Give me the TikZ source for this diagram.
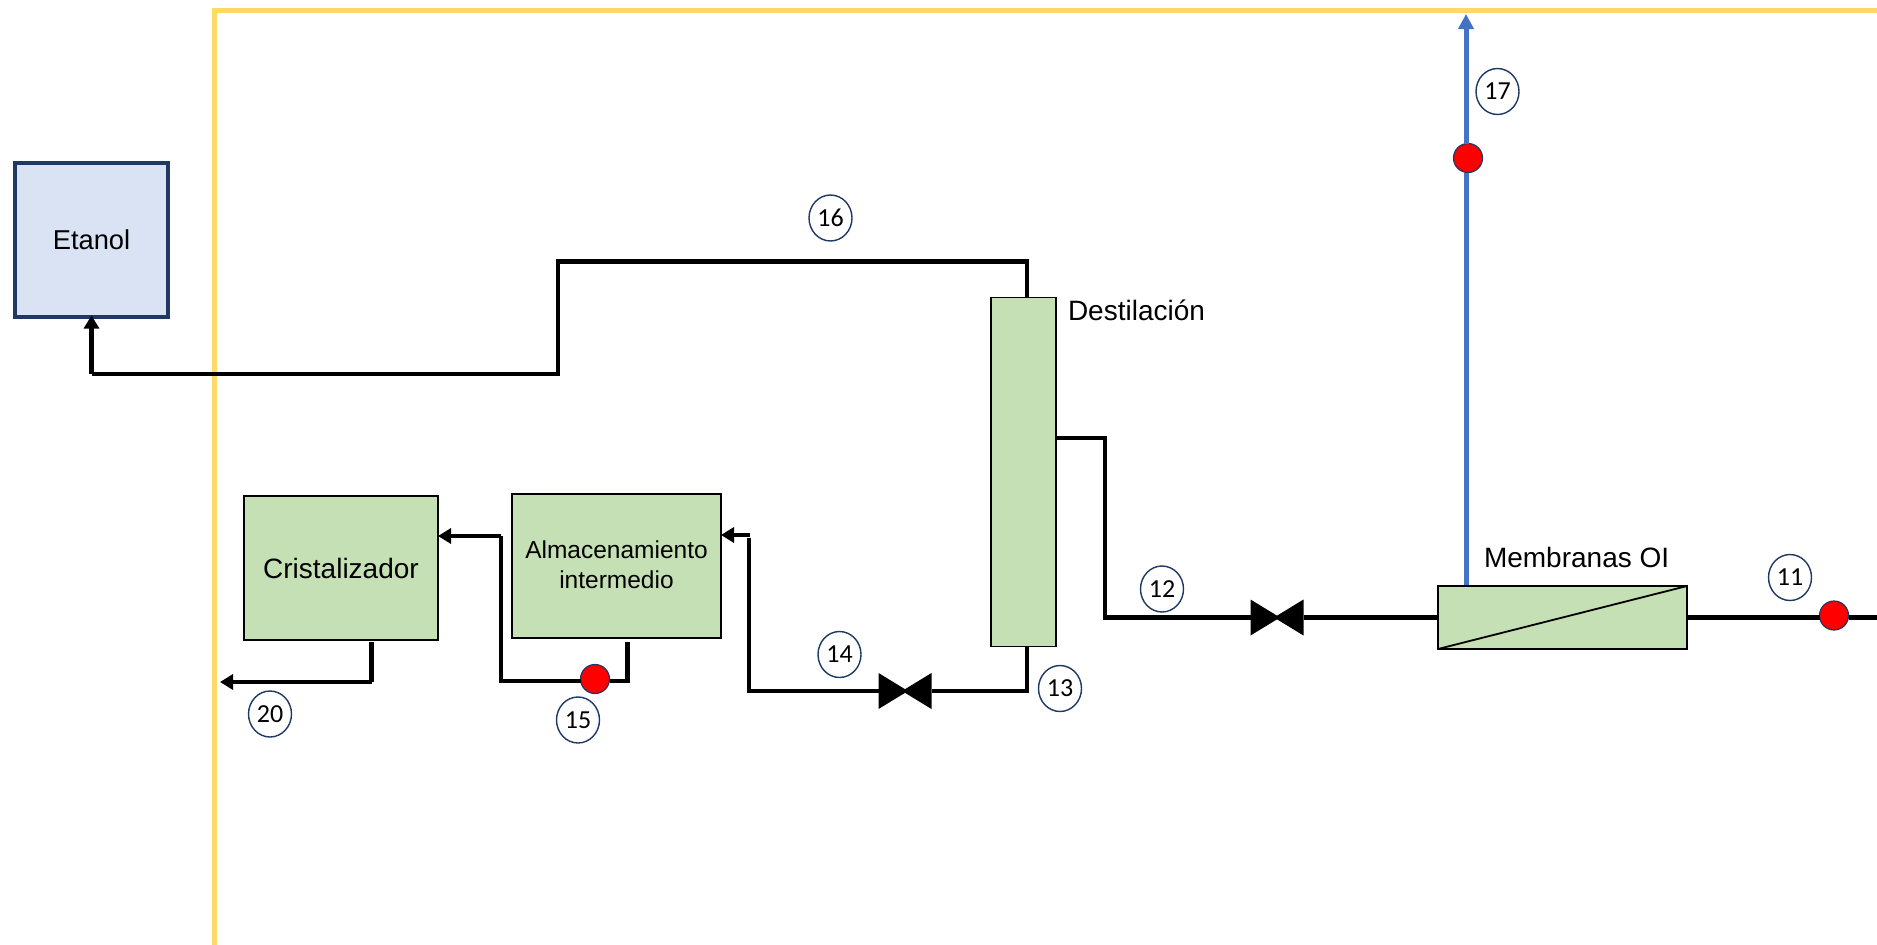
\documentclass[tikz,border=0pt]{standalone}
\usepackage{fontspec}
\setmainfont{Liberation Sans}
\newfontfamily\numfont{Carlito}
\usetikzlibrary{arrows.meta,calc,shapes.geometric}
\definecolor{yel}{HTML}{FFD966}
\definecolor{grn}{HTML}{C5E0B4}
\definecolor{lblue}{HTML}{DAE3F3}
\definecolor{navy}{HTML}{1F3864}
\definecolor{flow}{HTML}{4472C4}
\tikzset{
  unitbox/.style={draw=black,line width=1.7pt,fill=grn,inner sep=0pt,outer sep=0pt,align=center},
  pipe/.style={draw=black,line width=4.5pt,line cap=square,line join=miter},
  arr/.style={pipe,-{Triangle[length=13pt,width=15pt]}},
  bluepipe/.style={draw=flow,line width=5pt},
  tag/.style={draw=navy,line width=1.4pt,fill=white,ellipse,minimum width=43pt,minimum height=46pt,inner sep=0pt,font=\numfont\fontsize{26}{28}\selectfont},
  dot/.style={circle,draw=navy,line width=1.2pt,fill=red,minimum size=29pt,inner sep=0pt,outer sep=0pt},
  valve/.style={minimum width=53pt,minimum height=36pt,inner sep=0pt,outer sep=0pt,
    path picture={
      \fill[black] (path picture bounding box.north west)--([xshift=3pt]path picture bounding box.center)--(path picture bounding box.south west)--cycle;
      \fill[black] (path picture bounding box.north east)--([xshift=-3pt]path picture bounding box.center)--(path picture bounding box.south east)--cycle;}},
  lab/.style={inner sep=0pt,outer sep=0pt}
}
\begin{document}
\begin{tikzpicture}[x=1pt,y=-1pt]
\useasboundingbox (0,0) rectangle (1877,945);
% system boundary
\coordinate (yb) at (214.5,945);
\coordinate (yc) at (214.5,10.5);
\coordinate (yr) at (1877,10.5);
\draw[yel,line width=5.5pt] (yb) -- (yc) -- (yr);
% units
\node[draw=navy,line width=4.5pt,fill=lblue,minimum width=153pt,minimum height=154pt,inner sep=0pt,outer sep=0pt,font=\fontsize{27.3}{30}\selectfont] (etanol) at (91.5,240) {Etanol};
\node[unitbox,minimum width=194pt,minimum height=144pt,font=\fontsize{28}{32}\selectfont] (cris) at (341,568) {Cristalizador};
\node[unitbox,minimum width=209pt,minimum height=144pt] (alm) at (616.5,566) {};
\node[lab,align=center,font=\fontsize{24.5}{30}\selectfont] (almt) at (616.5,564.5) {Almacenamiento\\intermedio};
\node[unitbox,minimum width=65pt,minimum height=349pt] (col) at (1023.5,472) {};
\node[unitbox,minimum width=249pt,minimum height=63pt] (mem) at (1562.5,617.5) {};
\draw[line width=1.8pt,black] (mem.south west) -- (mem.north east);
\node[lab,anchor=west,font=\fontsize{28}{32}\selectfont] (dest) at (1068,310) {Destilación};
\node[lab,anchor=base west,font=\fontsize{28}{30}\selectfont] (memt) at (1484,567) {Membranas OI};
% valves and dots
\node[valve] (v14) at (905,691) {};
\node[valve] (v12) at (1277,617.5) {};
\node[dot] (d15) at (595,679) {};
\node[dot] (d11) at (1834,615.5) {};
\node[dot] (d17) at (1468,158) {};
% free ends
\coordinate (e1) at (91.5,374);
\coordinate (e2) at (558,374);
\coordinate (e3) at (558,261.5);
\coordinate (e4) at (1027,261.5);
\coordinate (c1) at (1027,646.5);
\coordinate (c2) at (1027,691);
\coordinate (c3) at (749,691);
\coordinate (c4) at (749,538);
\coordinate (c5) at (750,535);
\coordinate (c6) at (721,535);
\coordinate (a1) at (627.5,641.5);
\coordinate (a2) at (627.5,681);
\coordinate (a3) at (501,681);
\coordinate (a4) at (501,536);
\coordinate (a5) at (438,536);
\coordinate (k1) at (371.5,642);
\coordinate (k2) at (371.5,682);
\coordinate (k3) at (220,682);
\coordinate (m1) at (1056,438);
\coordinate (m2) at (1105,438);
\coordinate (m3) at (1105,617.5);
\coordinate (r1) at (1877,617.5);
\coordinate (b1) at (1466,585);
\coordinate (b2) at (1466,14);
% connectors
\draw[pipe] (1027,297) -- (e4) -- (e3) -- (e2) -- (e1);
\draw[arr,line cap=butt] (e1) -- ($(etanol.south)+(0,-1.5)$);
\draw[pipe] (c1) -- (c2) -- (v14);
\draw[pipe] (v14) -- (c3) -- (c4);
\draw[arr,line cap=butt] (c5) -- (c6);
\draw[pipe] (a1) -- (a2) -- (d15.east |- a2);
\draw[pipe] (d15.west |- a3) -- (a3) -- (a4);
\draw[arr,line cap=butt] (a4) -- (a5);
\draw[pipe] (k1) -- (k2);
\draw[arr,line cap=butt] (k2) -- (k3);
\draw[pipe] (m1) -- (m2) -- (m3) -- (v12);
\draw[pipe] (v12) -- (mem.west);
\draw[pipe] (mem.east) -- (d11.west |- mem.east);
\draw[pipe] (d11.east |- r1) -- (r1);
\draw[bluepipe] (b1) -- (b1 |- d17.south);
\draw[bluepipe,-{Triangle[length=15pt,width=15pt]}] (b1 |- d17.north) -- (b2);
% stream numbers
\node[tag] (t11) at (1790,577.5) {11};
\node[tag] (t12) at (1162,589) {12};
\node[tag] (t13) at (1060,688.5) {13};
\node[tag] (t14) at (839.5,654.5) {14};
\node[tag] (t15) at (578,720) {15};
\node[tag] (t16) at (830.5,218) {16};
\node[tag] (t17) at (1497.5,91.5) {17};
\node[tag] (t20) at (270,714) {20};
\end{tikzpicture}
\end{document}
